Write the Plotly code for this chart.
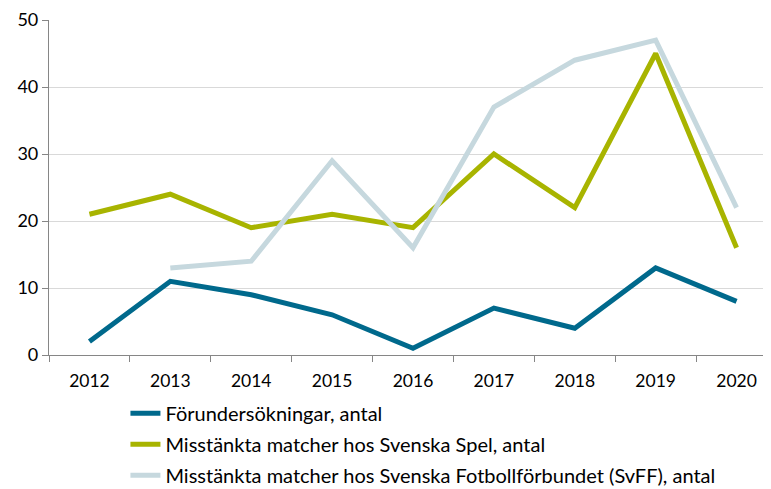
import plotly.graph_objects as go

years = ["2012", "2013", "2014", "2015", "2016", "2017", "2018", "2019", "2020"]
forundersokningar = [2, 11, 9, 6, 1, 7, 4, 13, 8]
svenska_spel = [21, 24, 19, 21, 19, 30, 22, 45, 16]
svff = [None, 13, 14, 29, 16, 37, 44, 47, 22]

names = ["Förundersökningar, antal",
         "Misstänkta matcher hos Svenska Spel, antal",
         "Misstänkta matcher hos Svenska Fotbollförbundet (SvFF), antal"]
colors = ["#00698C", "#A8B400", "#C6D8DE"]

fig = go.Figure()
for i, (vals, name, col) in enumerate(zip([forundersokningar, svenska_spel, svff], names, colors)):
    fig.add_trace(go.Scatter(x=years, y=vals, name=name, mode="lines",
                             legendgroup=str(i),
                             line=dict(color=col, width=5)))

fig.update_layout(
    width=771, height=489,
    margin=dict(l=41, r=2, t=12, b=142, autoexpand=False),
    paper_bgcolor="white", plot_bgcolor="white",
    font=dict(family="Lato, Open Sans, sans-serif", size=18, color="#000000"),
    showlegend=True,
    legend=dict(x=0.105, y=-0.116, xanchor="left", yanchor="top",
                traceorder="grouped", tracegroupgap=2,
                font=dict(size=20), bgcolor="rgba(0,0,0,0)"),
)
fig.update_xaxes(type="category", range=[-0.5, 8.5], tickson="boundaries",
                 ticks="outside", ticklen=6, tickcolor="#868686",
                 showline=True, linecolor="#868686", linewidth=1.2,
                 showgrid=False, tickangle=0, ticklabelstandoff=10,
                 tickfont=dict(size=17.5))
fig.update_yaxes(range=[0, 50], dtick=10, ticks="outside", ticklen=6,
                 tickcolor="#868686", showline=True, linecolor="#868686",
                 linewidth=1.2, gridcolor="#D9D9D9", gridwidth=1.2,
                 zeroline=False, tickfont=dict(size=18))

fig.write_html("out.html")
